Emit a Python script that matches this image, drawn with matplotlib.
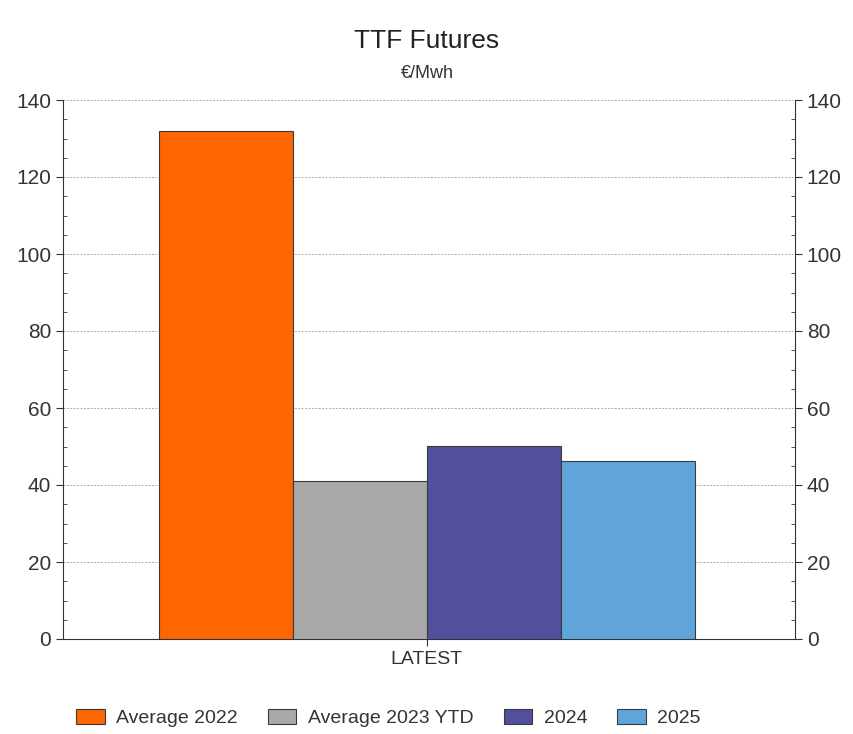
import numpy as np
import matplotlib
matplotlib.use("Agg")
import matplotlib.pyplot as plt
from matplotlib.ticker import MultipleLocator

# datos
categories = ["LATEST"]
series     = ["Average 2022", "Average 2023 YTD", "2024", "2025"]
values     = [131.9, 41.0, 50.1, 46.2]
colors     = ["#FF6600", "#A9A9A9", "#524F9C", "#5FA5D9"]

plt.rcParams['font.family'] = ['Liberation Sans', 'DejaVu Sans']

fig = plt.figure(figsize=(8.54, 7.34), dpi=100)
ax  = fig.add_axes([63/854, 1-639/734, 732/854, 539/734])

x  = np.arange(len(categories))
bw = 0.183
for i in range(len(series)):
    ax.bar(x - 0.003 + (i - 1.5)*bw, values[i], width=bw, color=colors[i],
           edgecolor="#3a3a3a", linewidth=0.8, label=series[i], zorder=3)

ax.set_xlim(-0.5, 0.5)
ax.set_ylim(0, 140)
ax.set_xticks(x - 0.003)
ax.set_xticklabels(categories, fontsize=14, color="#333333")
ax.yaxis.set_major_locator(MultipleLocator(20))
ax.yaxis.set_minor_locator(MultipleLocator(5))
ax.grid(axis="y", which="major", linestyle=(0, (2, 1.5)), color="#aaaaaa", linewidth=0.7, zorder=0)

ax.spines["top"].set_visible(False)
for s in ["left", "right", "bottom"]:
    ax.spines[s].set_color("#333333")
ax.tick_params(axis="y", which="major", direction="out", length=5, labelsize=15,
               colors="#333333", labelright=True, right=True)
ax.tick_params(axis="y", which="minor", direction="in", length=3, right=True, colors="#333333")
ax.tick_params(axis="x", length=5, colors="#333333")

fig.text(0.5, 1-41/734, "TTF Futures", ha="center", va="center", fontsize=19, color="#222222")
fig.text(0.5, 1-74/734, "€/Mwh", ha="center", va="center", fontsize=13, color="#333333")

fig.legend(loc="center", bbox_to_anchor=(0.455, 1-718/734), ncol=4, frameon=False,
           fontsize=14, handlelength=1.45, handleheight=0.85, handletextpad=0.6,
           columnspacing=1.55, labelcolor="#333333")

fig.savefig("out.png", dpi=100)
